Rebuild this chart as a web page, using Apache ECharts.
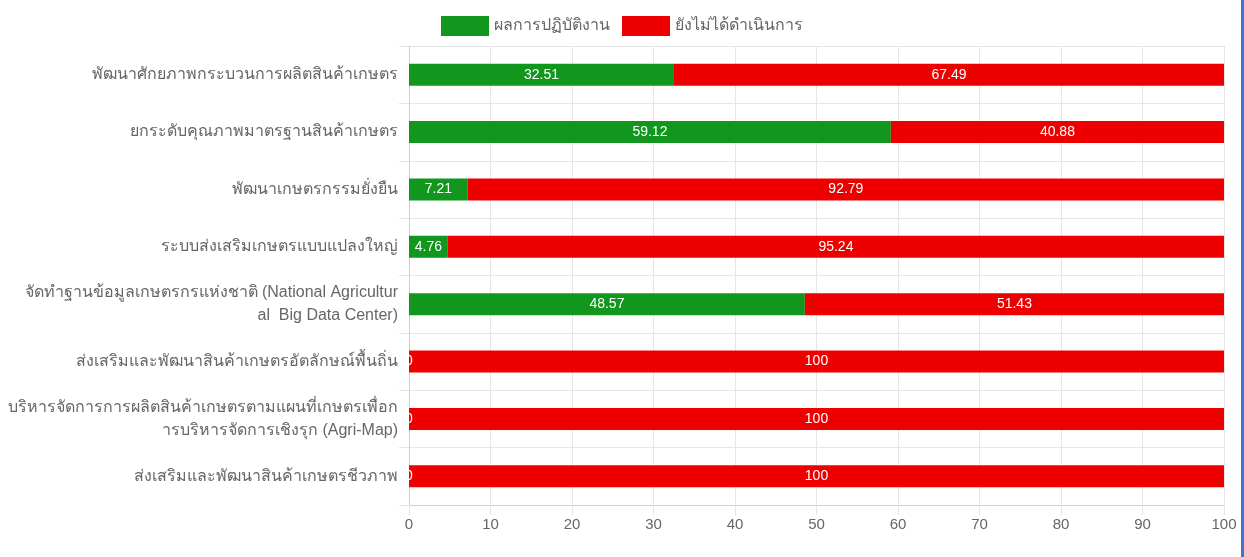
<!DOCTYPE html>
<html>
<head>
<meta charset="utf-8">
<script src="https://cdn.jsdelivr.net/npm/echarts@6/dist/echarts.min.js"></script>
<style>
  html, body { margin: 0; padding: 0; background: #fff; }
  #chart { width: 1244px; height: 557px; }
</style>
</head>
<body>
<div id="chart"></div>
<script>
// หมวดงาน (แกน y)
var categories = [
  'พัฒนาศักยภาพกระบวนการผลิตสินค้าเกษตร',
  'ยกระดับคุณภาพมาตรฐานสินค้าเกษตร',
  'พัฒนาเกษตรกรรมยั่งยืน',
  'ระบบส่งเสริมเกษตรแบบแปลงใหญ่',
  'จัดทำฐานข้อมูลเกษตรกรแห่งชาติ (National Agricultur\nal  Big Data Center)',
  'ส่งเสริมและพัฒนาสินค้าเกษตรอัตลักษณ์พื้นถิ่น',
  'บริหารจัดการการผลิตสินค้าเกษตรตามแผนที่เกษตรเพื่อก\nารบริหารจัดการเชิงรุก (Agri-Map)',
  'ส่งเสริมและพัฒนาสินค้าเกษตรชีวภาพ'
];
var seriesNames = ['ผลการปฏิบัติงาน', 'ยังไม่ได้ดำเนินการ'];
var doneValues = [32.51, 59.12, 7.21, 4.76, 48.57, 0, 0, 0];
var notDoneValues = [67.49, 40.88, 92.79, 95.24, 51.43, 100, 100, 100];
var xTicks = [0, 10, 20, 30, 40, 50, 60, 70, 80, 90, 100];

var chart = echarts.init(document.getElementById('chart'));

var font = 'Liberation Sans, Arial, sans-serif';
var gridColor = '#e6e6e6';

chart.setOption({
  animation: false,
  textStyle: { fontFamily: font },
  color: ['#11961e', '#ee0000'],
  legend: {
    top: 11,
    left: 'center',
    itemWidth: 48,
    itemHeight: 20,
    itemGap: 12,
    icon: 'rect',
    textStyle: { color: '#666', fontSize: 16, fontFamily: font },
    data: seriesNames
  },
  grid: { left: 409, right: 20, top: 46, bottom: 52 },
  xAxis: {
    type: 'value',
    min: xTicks[0],
    max: xTicks[xTicks.length - 1],
    interval: 10,
    axisLine: { show: true, lineStyle: { color: '#cfcfcf', width: 1 } },
    axisTick: { show: true, length: 10, lineStyle: { color: gridColor } },
    axisLabel: { color: '#666', fontSize: 15, margin: 12, fontFamily: font },
    splitLine: { show: true, lineStyle: { color: gridColor } }
  },
  yAxis: {
    type: 'category',
    inverse: true,
    data: categories,
    axisLine: { show: true, lineStyle: { color: '#cfcfcf', width: 1 } },
    axisTick: { show: true, length: 10, lineStyle: { color: gridColor } },
    axisLabel: { color: '#666', fontSize: 16, margin: 11, lineHeight: 23, fontFamily: font },
    splitLine: { show: true, lineStyle: { color: gridColor } }
  },
  series: [
    {
      name: seriesNames[0],
      type: 'bar',
      stack: 'total',
      barWidth: 22,
      data: doneValues,
      label: { show: true, position: 'inside', color: '#fff', fontSize: 14, fontFamily: font }
    },
    {
      name: seriesNames[1],
      type: 'bar',
      stack: 'total',
      barWidth: 22,
      data: notDoneValues,
      label: { show: true, position: 'inside', color: '#fff', fontSize: 14, fontFamily: font }
    }
  ],
  graphic: [
    { type: 'rect', right: 0, top: 0, shape: { width: 3, height: 557 }, style: { fill: '#4472c4' } }
  ]
});
</script>
</body>
</html>
